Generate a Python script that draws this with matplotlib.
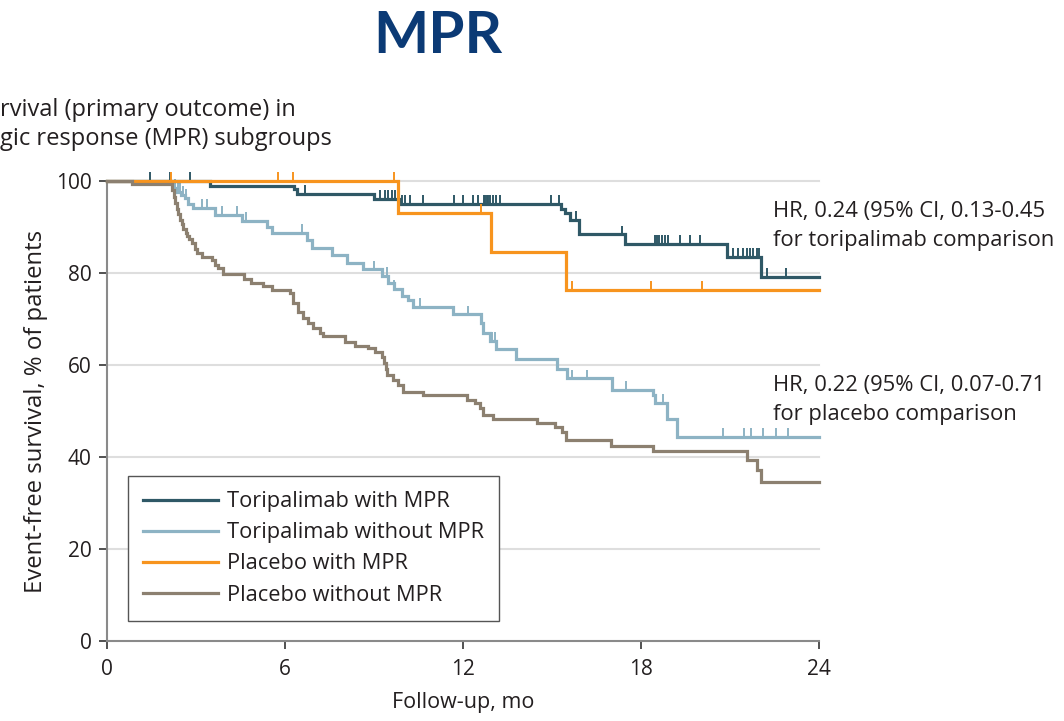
import numpy as np
import matplotlib
matplotlib.use("Agg")
from matplotlib import pyplot as plt

plt.rcParams['font.family'] = ['Open Sans', 'DejaVu Sans']

# Kaplan-Meier step points (months, % event-free)
tor_mpr_t = [0, 3.47, 6.3, 6.4, 9.0, 9.87, 15.3, 15.45, 15.6, 15.9, 17.46, 20.9, 22.05, 24]
tor_mpr_s = [100, 99.0, 98.3, 97.2, 96.1, 95.1, 94.0, 93.0, 91.6, 88.4, 86.3, 83.5, 79.2, 79.2]
tor_mpr_cens = [1.45, 2.12, 2.8, 6.67, 9.2, 9.37, 9.48, 9.6, 9.71, 9.82, 9.93, 10.04, 10.2,
                10.65, 11.7, 12.0, 12.35, 12.5, 12.7, 12.75, 12.8, 12.85, 12.9, 13.0, 13.1,
                13.25, 14.96, 15.23, 15.8, 17.36, 18.47, 18.55, 18.62, 18.7, 18.8, 18.9,
                19.3, 19.65, 20.0, 21.1, 21.27, 21.44, 21.57, 21.67, 21.77, 21.9, 21.98,
                22.25, 22.9]

tor_no_t = [0, 2.25, 2.35, 2.5, 2.62, 2.73, 2.9, 3.64, 4.55, 5.38, 5.55, 6.73, 6.9, 7.57,
            8.08, 8.63, 9.26, 9.47, 9.67, 9.93, 10.15, 10.3, 11.67, 12.6, 12.68, 12.9, 13.1,
            13.78, 15.16, 15.51, 17.01, 18.41, 18.47, 18.86, 19.22, 24]
tor_no_s = [100, 98.5, 97.6, 97.0, 96.4, 95.1, 94.1, 92.7, 91.3, 90.0, 88.7, 87.1, 85.5, 83.9,
            82.2, 80.8, 79.3, 77.8, 76.6, 75.0, 74.1, 72.7, 71.0, 69.1, 67.0, 65.3, 63.4,
            61.2, 59.1, 57.1, 54.6, 53.4, 51.7, 48.2, 44.4, 44.4]
tor_no_cens = [2.3, 2.38, 2.45, 2.55, 2.65, 3.2, 3.37, 3.87, 4.38, 4.7, 6.56, 9.0, 9.43, 9.67,
               10.55, 12.18, 12.97, 13.08, 15.66, 16.19, 17.48, 18.75, 20.75, 21.47, 21.7,
               22.1, 22.55, 22.94]

pla_mpr_t = [0, 9.8, 12.93, 15.47, 24]
pla_mpr_s = [100, 93.1, 84.6, 76.3, 76.3]
pla_mpr_cens = [2.15, 5.77, 6.27, 9.67, 12.6, 15.67, 18.33, 20.05]

pla_no_t = [0, 0.85, 2.2, 2.25, 2.3, 2.35, 2.4, 2.46, 2.52, 2.57, 2.65, 2.71, 2.78, 2.85,
            2.95, 3.02, 3.19, 3.53, 3.64, 3.75, 3.92, 4.62, 4.84, 5.27, 5.55, 6.17, 6.28,
            6.45, 6.62, 6.79, 6.95, 7.18, 7.29, 8.02, 8.36, 8.81, 9.03, 9.26, 9.33, 9.4,
            9.45, 9.65, 9.82, 9.97, 10.64, 12.14, 12.4, 12.57, 12.68, 13.02, 14.48, 15.1,
            15.33, 15.47, 16.98, 18.41, 21.58, 21.9, 22.03, 24]
pla_no_s = [100, 99.3, 98.0, 96.6, 95.3, 94.0, 92.8, 91.6, 90.6, 89.6, 88.8, 88.0, 87.3, 86.5,
            85.3, 84.3, 83.5, 82.9, 81.8, 81.0, 79.8, 78.8, 77.9, 77.2, 76.2, 75.6, 73.4,
            71.6, 70.2, 69.1, 68.0, 66.9, 66.2, 65.1, 64.1, 63.6, 62.9, 61.8, 60.4, 59.1,
            57.8, 56.7, 55.7, 54.2, 53.5, 52.4, 51.7, 50.6, 49.1, 48.2, 47.3, 46.5,
            45.5, 43.8, 42.4, 41.3, 39.3, 37.2, 34.6, 34.6]

labels = ["Toripalimab with MPR", "Toripalimab without MPR",
          "Placebo with MPR", "Placebo without MPR"]
colors = ["#2f5866", "#8db3c4", "#f7941e", "#8c8070"]
xticks = [0, 6, 12, 18, 24]
yticks = [0, 20, 40, 60, 80, 100]

txt = "#231f20"
fs = 15
W, H = 1064, 721
fig = plt.figure(figsize=(W / 100, H / 100), dpi=100)
ax = fig.add_axes([107 / W, 1 - 641 / H, 712 / W, 460 / H])

for y in yticks[1:]:
    ax.axhline(y, color="#dedede", lw=1.5, zorder=0, clip_on=False)


def km(t, s, cens, c, label, z):
    ax.step(t, s, where="post", color=c, lw=2.3, label=label, zorder=z,
            clip_on=False, solid_joinstyle="miter")
    if cens:
        idx = np.searchsorted(t, cens, side="right") - 1
        yy = np.array(s)[idx]
        ax.vlines(cens, yy, yy + 1.9, color=c, lw=1.4, zorder=z, clip_on=False)


km(tor_no_t, tor_no_s, tor_no_cens, colors[1], labels[1], 3)
km(tor_mpr_t, tor_mpr_s, tor_mpr_cens, colors[0], labels[0], 4)
km(pla_mpr_t, pla_mpr_s, pla_mpr_cens, colors[2], labels[2], 5)
km(pla_no_t, pla_no_s, [], colors[3], labels[3], 6)

ax.set_xlim(0, 24)
ax.set_ylim(0, 100)
ax.set_xticks(xticks)
ax.set_yticks(yticks)
for sp in ["top", "right"]:
    ax.spines[sp].set_visible(False)
ax.spines["left"].set_color("#8a8a8a")
ax.spines["bottom"].set_color("#8a8a8a")
ax.spines["left"].set_linewidth(1.5)
ax.spines["bottom"].set_linewidth(1.5)
ax.tick_params(length=6, width=1.2, color="#333333", labelsize=fs, labelcolor=txt, pad=5)
ax.tick_params(axis="x", pad=7)

ax.set_xlabel("Follow-up, mo", fontsize=15.5, color=txt)
ax.set_ylabel("Event-free survival, % of patients", fontsize=17.2, color=txt)
ax.xaxis.set_label_coords(0.5, -0.11)
ax.yaxis.set_label_coords(-0.083, 0.5)

h, l = ax.get_legend_handles_labels()
hd = dict(zip(l, h))
leg = fig.legend([hd[x] for x in labels], labels, loc="lower left",
                 bbox_to_anchor=(128 / W, 1 - 621 / H), borderaxespad=0,
                 fontsize=15.7, handlelength=3.4, handletextpad=0.42,
                 labelspacing=0.46, borderpad=0.71, fancybox=False,
                 edgecolor="#555555", framealpha=1, labelcolor=txt)
leg.get_frame().set_linewidth(1.0)

fig.text(438 / W, 1 - 53 / H, "MPR", fontsize=42, fontweight="bold",
         family=["Lato", "DejaVu Sans"],
         color="#0b3a75", ha="center", va="baseline")
fs2 = 17
fig.text(0, 1 - 116 / H, "rvival (primary outcome) in", fontsize=fs2, color=txt,
         ha="left", va="baseline")
fig.text(0, 1 - 145 / H, "gic response (MPR) subgroups", fontsize=fs2, color=txt,
         ha="left", va="baseline")
fs3 = 15.8
fig.text(773 / W, 1 - 217 / H, "HR, 0.24 (95% CI, 0.13-0.45", fontsize=fs3, color=txt,
         ha="left", va="baseline")
fig.text(773 / W, 1 - 246 / H, "for toripalimab comparison", fontsize=fs3, color=txt,
         ha="left", va="baseline")
fig.text(773 / W, 1 - 391 / H, "HR, 0.22 (95% CI, 0.07-0.71", fontsize=fs3, color=txt,
         ha="left", va="baseline")
fig.text(773 / W, 1 - 420 / H, "for placebo comparison", fontsize=fs3, color=txt,
         ha="left", va="baseline")

fig.savefig("out.png", dpi=100)
